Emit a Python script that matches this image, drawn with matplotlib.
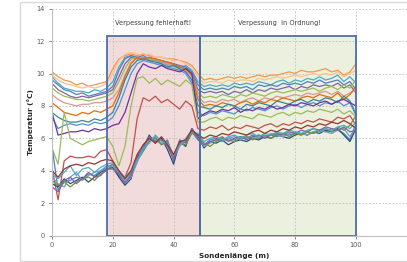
import matplotlib
matplotlib.use("Agg")
import matplotlib.pyplot as plt
from matplotlib.patches import Rectangle
import numpy as np

# Sondenlänge (m), sampled every 2 m
x_m = list(range(0, 101, 2))

series = [
    # top group
    ("#F79646", [10.1, 9.8, 9.6, 9.5, 9.3, 9.4, 9.2, 9.3, 9.4, 9.5,
                 10.3, 10.9, 11.1, 11.2, 11.1, 11.2, 11.1, 11.0, 11.0, 10.9, 10.9, 10.8, 10.7, 10.5, 10.0,
                 9.6, 9.7, 9.6, 9.7, 9.8, 9.7, 9.8, 9.7, 9.8, 9.9, 9.8, 9.9, 9.9, 10.0, 10.1, 10.0,
                 10.2, 10.1, 10.1, 10.2, 10.3, 10.1, 10.2, 9.9, 10.1, 10.6]),
    ("#FAC090", [9.9, 9.6, 9.4, 9.3, 9.2, 9.1, 9.2, 9.1, 9.2, 9.4,
                 10.0, 10.8, 11.2, 11.3, 11.2, 11.1, 11.2, 11.0, 11.0, 10.9, 10.8, 10.8, 10.6, 10.4, 9.8,
                 9.4, 9.5, 9.5, 9.4, 9.6, 9.5, 9.6, 9.6, 9.5, 9.7, 9.6, 9.7, 9.8, 9.7, 9.8, 9.9,
                 9.8, 9.9, 10.0, 9.9, 10.0, 9.9, 10.1, 9.8, 10.0, 10.2]),
    ("#4BACC6", [9.8, 9.4, 9.1, 9.0, 8.9, 8.9, 8.8, 9.0, 8.9, 9.1,
                 9.5, 10.4, 11.0, 11.1, 11.0, 10.9, 11.0, 10.8, 10.7, 10.5, 10.6, 10.3, 10.5, 10.2, 9.5,
                 9.2, 9.3, 9.2, 9.3, 9.2, 9.4, 9.3, 9.4, 9.3, 9.5, 9.4, 9.3, 9.5, 9.6, 9.4, 9.6,
                 9.5, 9.7, 9.6, 9.8, 9.6, 9.7, 9.9, 9.5, 9.8, 9.4]),
    ("#4F81BD", [9.6, 9.3, 9.0, 8.9, 8.7, 8.8, 8.6, 8.7, 8.8, 8.9,
                 9.2, 10.2, 10.9, 11.1, 11.0, 11.1, 10.9, 10.9, 10.8, 10.7, 10.6, 10.5, 10.4, 10.1, 9.3,
                 9.0, 9.1, 9.0, 9.1, 9.0, 9.2, 9.1, 9.2, 9.0, 9.3, 9.2, 9.3, 9.2, 9.4, 9.3, 9.4,
                 9.3, 9.5, 9.4, 9.6, 9.4, 9.5, 9.6, 9.3, 9.5, 9.0]),
    ("#8064A2", [9.4, 9.0, 8.8, 8.6, 8.5, 8.6, 8.5, 8.6, 8.7, 8.8,
                 9.0, 9.8, 10.6, 11.0, 10.9, 11.0, 10.8, 10.8, 10.7, 10.6, 10.5, 10.4, 10.3, 10.0, 9.0,
                 8.8, 8.9, 8.8, 8.9, 8.7, 8.9, 8.8, 9.0, 8.8, 9.0, 8.9, 9.1, 9.0, 9.1, 9.2, 9.0,
                 9.2, 9.1, 9.3, 9.2, 9.3, 9.2, 9.4, 9.1, 9.3, 8.8]),
    ("#9BBB59", [9.1, 8.8, 8.6, 8.5, 8.4, 8.4, 8.3, 8.4, 8.5, 8.6,
                 8.8, 9.5, 10.3, 10.9, 11.0, 10.9, 10.9, 10.8, 10.6, 10.6, 10.4, 10.3, 10.2, 9.9, 8.8,
                 8.5, 8.6, 8.5, 8.7, 8.6, 8.5, 8.7, 8.6, 8.8, 8.7, 8.6, 8.8, 8.9, 8.8, 8.9, 9.0,
                 8.9, 9.0, 9.1, 8.9, 9.1, 9.2, 9.0, 9.3, 9.1, 9.6]),
    ("#D99694", [8.7, 8.4, 8.2, 8.1, 8.0, 8.1, 8.1, 8.2, 8.2, 8.3,
                 8.5, 9.0, 9.9, 10.7, 11.0, 11.0, 10.8, 10.9, 10.7, 10.6, 10.5, 10.4, 10.2, 9.8, 8.6,
                 8.2, 8.3, 8.2, 8.4, 8.3, 8.4, 8.2, 8.4, 8.5, 8.3, 8.5, 8.4, 8.6, 8.5, 8.6, 8.7,
                 8.6, 8.8, 8.7, 8.8, 8.9, 8.7, 8.9, 8.6, 8.8, 9.0]),
    ("#E46C0A", [8.2, 7.9, 7.6, 7.5, 7.4, 7.6, 7.5, 7.7, 7.6, 7.8,
                 8.0, 8.8, 9.8, 10.6, 11.0, 10.9, 11.0, 10.9, 10.8, 10.7, 10.6, 10.4, 10.3, 9.9, 8.4,
                 8.0, 8.1, 8.0, 8.2, 8.1, 8.0, 8.2, 8.3, 8.1, 8.3, 8.2, 8.4, 8.3, 8.5, 8.4, 8.3,
                 8.5, 8.6, 8.5, 8.7, 8.6, 8.5, 8.8, 8.4, 8.7, 9.2]),
    ("#31859C", [7.6, 7.3, 7.1, 7.0, 7.0, 7.1, 7.0, 7.2, 7.1, 7.3,
                 7.6, 8.5, 9.6, 10.4, 10.8, 10.9, 10.8, 10.7, 10.6, 10.4, 10.5, 10.3, 10.1, 9.6, 8.0,
                 7.9, 7.8, 8.0, 7.9, 8.1, 8.0, 7.8, 8.1, 8.0, 8.2, 8.1, 8.0, 8.3, 8.2, 8.1, 8.3,
                 8.4, 8.2, 8.4, 8.3, 8.5, 8.4, 8.2, 8.6, 8.3, 7.5]),
    ("#558ED5", [7.3, 6.6, 6.8, 6.9, 6.8, 6.9, 6.8, 7.0, 6.9, 7.0,
                 7.3, 8.0, 9.0, 10.0, 10.6, 10.8, 10.7, 10.6, 10.5, 10.4, 10.3, 10.2, 10.0, 9.4, 7.6,
                 7.4, 7.6, 7.5, 7.7, 7.6, 7.5, 7.8, 7.7, 7.9, 7.8, 7.7, 7.9, 8.0, 7.8, 8.0, 8.1,
                 7.9, 8.1, 8.2, 8.0, 8.2, 8.1, 8.3, 8.0, 8.2, 7.4]),
    ("#7030A0", [7.6, 6.2, 6.3, 6.4, 6.4, 6.5, 6.4, 6.6, 6.5, 6.6,
                 6.8, 6.9, 7.6, 8.8, 10.0, 10.6, 10.4, 10.3, 10.5, 10.3, 10.2, 10.1, 10.3, 10.0, 7.2,
                 7.5, 7.7, 7.6, 7.8, 7.7, 7.9, 7.6, 7.8, 7.7, 7.9, 7.8, 8.0, 7.8, 7.9, 8.1, 8.0,
                 8.2, 8.1, 8.0, 8.2, 8.3, 8.1, 8.3, 8.4, 8.2, 8.0]),
    # middle
    ("#9BBB59", [5.4, 4.4, 7.6, 6.0, 5.8, 5.6, 5.8, 5.9, 6.0, 6.1,
                 5.5, 4.3, 5.5, 8.0, 9.7, 9.8, 9.4, 9.7, 9.3, 9.6, 9.4, 9.2, 9.6, 9.3, 7.0,
                 7.0, 7.2, 7.3, 7.1, 7.3, 7.2, 7.4, 7.3, 7.2, 7.5, 7.4, 7.3, 7.5, 7.6, 7.4, 7.6,
                 7.5, 7.7, 7.6, 7.8, 7.7, 7.6, 7.8, 7.5, 7.7, 7.3]),
    ("#C0504D", [4.2, 2.2, 4.6, 4.9, 4.8, 4.8, 4.9, 4.8, 5.2, 5.3,
                 4.6, 3.8, 3.6, 4.5, 7.2, 8.5, 8.3, 8.6, 8.2, 8.4, 8.1, 7.8, 8.3, 8.0, 6.6,
                 6.5, 6.7, 6.6, 6.8, 6.5, 6.7, 6.6, 6.8, 6.7, 6.6, 6.8, 6.9, 6.7, 6.9, 6.8, 7.0,
                 6.9, 7.1, 7.0, 7.2, 7.1, 7.0, 7.3, 7.2, 7.4, 6.8]),
    # bottom cluster
    ("#4F81BD", [5.5, 2.8, 3.3, 3.4, 3.6, 3.5, 3.8, 3.7, 4.0, 4.2,
                 4.4, 3.7, 3.3, 3.8, 4.6, 5.2, 5.8, 6.0, 5.6, 5.9, 4.6, 5.6, 5.8, 6.4, 5.9,
                 5.6, 5.9, 6.0, 5.8, 6.0, 5.9, 6.1, 6.0, 6.2, 6.0, 6.1, 6.2, 6.1, 6.3, 6.2, 6.3,
                 6.2, 6.4, 6.3, 6.5, 6.4, 6.6, 6.5, 6.3, 5.9, 6.9]),
    ("#2C4D75", [3.2, 3.0, 3.5, 3.2, 3.4, 3.6, 3.3, 3.6, 3.9, 4.1,
                 4.2, 3.6, 3.1, 3.5, 4.8, 5.4, 6.2, 5.7, 6.0, 5.3, 4.4, 5.8, 5.5, 6.6, 6.1,
                 5.4, 5.8, 5.7, 5.9, 5.6, 5.8, 5.9, 5.8, 6.0, 5.9, 6.1, 6.0, 6.2, 6.1, 6.0, 6.2,
                 6.3, 6.2, 6.4, 6.3, 6.5, 6.4, 6.6, 6.2, 5.8, 6.6]),
    ("#729ACA", [3.6, 3.2, 3.0, 3.6, 3.9, 3.4, 3.7, 3.9, 4.0, 4.3,
                 4.3, 3.9, 3.4, 3.6, 4.5, 5.6, 6.0, 5.9, 5.7, 5.6, 4.8, 5.5, 6.0, 6.5, 6.0,
                 5.5, 5.7, 5.9, 5.8, 6.0, 6.1, 5.9, 6.1, 6.0, 6.2, 6.1, 6.3, 6.2, 6.1, 6.3, 6.4,
                 6.3, 6.2, 6.4, 6.5, 6.4, 6.3, 6.5, 6.6, 6.1, 6.7]),
    ("#77933C", [3.4, 3.1, 3.3, 3.0, 3.3, 3.5, 3.6, 3.4, 3.8, 4.0,
                 4.4, 4.0, 3.5, 3.9, 4.7, 5.3, 5.9, 6.1, 5.6, 5.8, 4.9, 5.7, 5.6, 6.3, 6.2,
                 5.7, 5.5, 5.8, 6.0, 5.9, 5.8, 6.0, 6.1, 5.9, 6.1, 6.2, 6.0, 6.2, 6.3, 6.1, 6.3,
                 6.2, 6.4, 6.3, 6.5, 6.6, 6.4, 6.7, 6.5, 6.8, 7.4]),
    ("#8064A2", [3.0, 2.7, 3.4, 3.6, 3.2, 3.5, 3.9, 3.6, 3.7, 4.1,
                 4.1, 3.8, 3.2, 3.7, 4.9, 5.5, 6.1, 5.8, 5.9, 5.5, 4.7, 5.9, 5.7, 6.6, 6.0,
                 5.6, 5.8, 5.9, 6.1, 5.8, 6.0, 6.1, 5.9, 6.1, 6.2, 6.0, 6.2, 6.3, 6.2, 6.4, 6.3,
                 6.5, 6.4, 6.6, 6.5, 6.7, 6.6, 6.5, 6.7, 6.4, 6.5]),
    ("#4BACC6", [3.8, 3.5, 3.9, 4.3, 3.7, 4.1, 4.2, 3.9, 4.2, 4.4,
                 4.5, 4.0, 3.6, 4.0, 4.6, 5.4, 5.7, 6.2, 5.8, 5.7, 5.0, 5.6, 5.9, 6.4, 6.3,
                 5.8, 6.0, 6.1, 5.9, 6.1, 6.2, 6.0, 6.2, 6.3, 6.1, 6.3, 6.2, 6.4, 6.3, 6.5, 6.4,
                 6.3, 6.5, 6.6, 6.4, 6.6, 6.5, 6.7, 6.8, 6.6, 7.0]),
    ("#943634", [4.0, 3.6, 4.1, 4.3, 4.4, 4.3, 4.5, 4.4, 4.6, 4.7,
                 4.6, 4.0, 3.5, 4.0, 5.0, 5.6, 6.0, 5.7, 6.1, 5.6, 5.0, 5.8, 5.9, 6.5, 6.2,
                 6.0, 6.2, 6.1, 6.3, 6.2, 6.4, 6.3, 6.2, 6.4, 6.5, 6.3, 6.5, 6.4, 6.6, 6.5, 6.7,
                 6.6, 6.8, 6.7, 6.9, 6.8, 7.0, 6.9, 7.1, 6.9, 6.6]),
]

x_ticks = [0, 20, 40, 60, 80, 100]
y_ticks = [0, 2, 4, 6, 8, 10, 12, 14]

fig = plt.figure(figsize=(4.07, 2.62), dpi=100)
fig.patch.set_facecolor("white")

# chart-area frame
fig.patches.append(Rectangle((20 / 407, 1 / 262), 1.0, 259 / 262, transform=fig.transFigure,
                             fill=False, edgecolor="#d9d9d9", linewidth=1.0))

ax = fig.add_axes([52 / 407, 26.5 / 262, 364.8 / 407, 226.8 / 262])
ax.set_xlim(0, 120)
ax.set_ylim(0, 14)
ax.set_axisbelow("line")

# zones
ax.add_patch(Rectangle((18, 0), 30.7, 12.3, facecolor="#f2dcdb", edgecolor="none", zorder=0.2))
ax.add_patch(Rectangle((48.7, 0), 51.3, 12.3, facecolor="#ebf1de", edgecolor="none", zorder=0.2))

for color, vals in series:
    ax.plot(x_m, vals, color=color, linewidth=0.9, zorder=2)

ax.add_patch(Rectangle((18, 0), 30.7, 12.3, fill=False, edgecolor="#4f6fa8", linewidth=1.3, zorder=3))
ax.add_patch(Rectangle((48.7, 0), 51.3, 12.3, fill=False, edgecolor="#4f6fa8", linewidth=1.3, zorder=3))

ax.text(33.3, 13.1, "Verpessung fehlerhaft!", fontsize=4.8, color="#404040",
        ha="center", va="center", zorder=4)
ax.text(74.7, 13.1, "Verpessung  in Ordnung!", fontsize=4.8, color="#404040",
        ha="center", va="center", zorder=4)

ax.set_xticks(x_ticks)
ax.set_yticks(y_ticks)
ax.set_xticks([120], minor=True)
ax.grid(True, which="both", linestyle=(0, (2, 2)), color="#bfbfbf", linewidth=0.6)
ax.tick_params(labelsize=4.8, colors="#595959", length=2, width=0.5, pad=3)
ax.tick_params(which="minor", length=0)
for s in ["top", "right"]:
    ax.spines[s].set_visible(False)
for s in ["left", "bottom"]:
    ax.spines[s].set_color("#bfbfbf")
    ax.spines[s].set_linewidth(0.8)

ax.set_ylabel("Temperatur (°C)", fontsize=5.2, fontweight="bold", color="#262626", labelpad=2)
ax.set_xlabel("Sondenlänge (m)", fontsize=5.2, fontweight="bold", color="#262626", labelpad=3)

fig.savefig("out.png", dpi=100)
